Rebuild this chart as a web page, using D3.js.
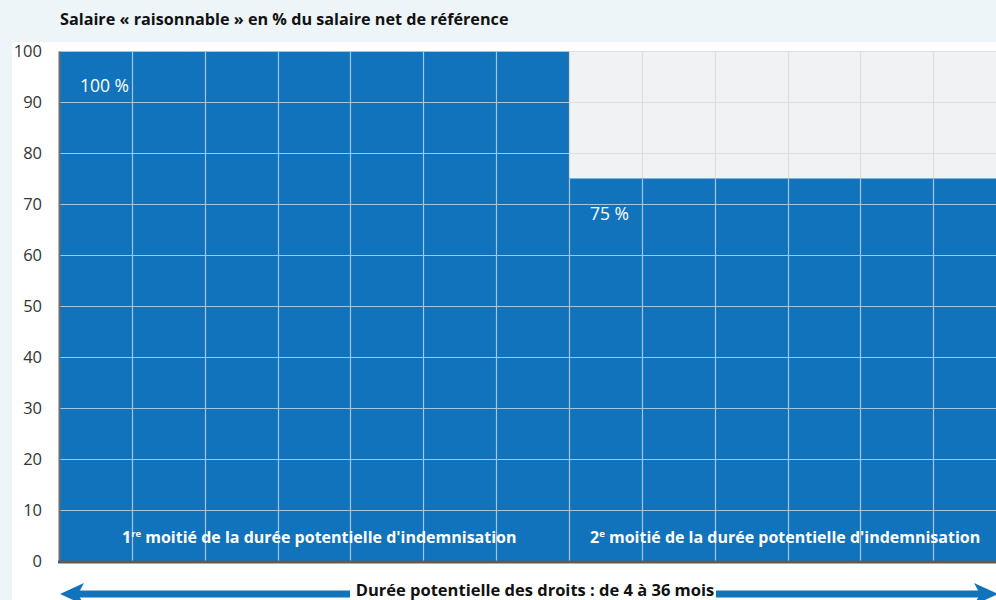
<!DOCTYPE html>
<html>
<head>
<meta charset="utf-8">
<script src="https://cdn.jsdelivr.net/npm/d3@7"></script>
<style>
  html, body { margin: 0; padding: 0; background: #edf5f9; }
  svg { display: block; font-family: "Open Sans", Lato, sans-serif; }
</style>
</head>
<body>
<div id="chart"></div>
<script>
// data
const periods = ['1re moitié', '2e moitié'];
const periodStart = [0, 7];
const periodEnd = [7, 14];
const rates = [100, 75];
const rateLabels = ['100 %', '75 %'];
const yTicks = [0, 10, 20, 30, 40, 50, 60, 70, 80, 90, 100];
const columns = d3.range(0, 15);

const width = 996;
const height = 600;
const BLUE = '#1173bc';
const GREY = '#f1f2f4';

const x = d3.scaleLinear().domain([0, 14]).range([59, 59 + 14 * 72.86]);
const y = d3.scaleLinear().domain([0, 100]).range([561, 51]);

const svg = d3.select('#chart')
  .append('svg')
  .attr('width', width)
  .attr('height', height);

// white panel
svg.append('rect')
  .attr('x', 12).attr('y', 42)
  .attr('width', width - 12).attr('height', height - 42)
  .attr('fill', '#fff');

svg.append('text')
  .attr('x', 60).attr('y', 25)
  .attr('font-size', 16.2)
  .attr('font-weight', 700)
  .attr('fill', '#111')
  .text('Salaire « raisonnable » en % du salaire net de référence');

// grey background for the plot area
svg.append('rect')
  .attr('x', x(0)).attr('y', y(100))
  .attr('width', x(14) - x(0)).attr('height', y(0) - y(100))
  .attr('fill', GREY);

const drawGrid = (g, color) => {
  g.selectAll('.h')
    .data(yTicks.filter(d => d > 0))
    .enter()
    .append('line')
    .attr('x1', x(0)).attr('x2', x(14))
    .attr('y1', d => y(d) + 0.5).attr('y2', d => y(d) + 0.5)
    .attr('stroke', color).attr('stroke-width', 1.2);
  g.selectAll('.v')
    .data(columns.filter(d => d > 0))
    .enter()
    .append('line')
    .attr('x1', d => Math.round(x(d)) + 0.5).attr('x2', d => Math.round(x(d)) + 0.5)
    .attr('y1', y(100)).attr('y2', y(0))
    .attr('stroke', color).attr('stroke-width', 1.2);
};

drawGrid(svg.append('g'), '#dddee2');

const bars = periods.map((p, i) => ({
  name: p, start: periodStart[i], end: periodEnd[i], value: rates[i], label: rateLabels[i]
}));

const clip = svg.append('defs').append('clipPath').attr('id', 'barclip');
clip.selectAll('rect')
  .data(bars)
  .enter()
  .append('rect')
  .attr('x', d => x(d.start)).attr('y', d => y(d.value))
  .attr('width', d => x(d.end) - x(d.start)).attr('height', d => y(0) - y(d.value));

svg.selectAll('.bar')
  .data(bars)
  .enter()
  .append('rect')
  .attr('class', 'bar')
  .attr('x', d => x(d.start)).attr('y', d => y(d.value))
  .attr('width', d => x(d.end) - x(d.start)).attr('height', d => y(0) - y(d.value))
  .attr('fill', BLUE);

drawGrid(svg.append('g').attr('clip-path', 'url(#barclip)'), '#a4c6e2');

// value labels
svg.selectAll('.val')
  .data(bars)
  .enter()
  .append('text')
  .attr('x', d => x(d.start) + 21)
  .attr('y', d => y(d.value) + 41)
  .attr('font-size', 17.5)
  .attr('fill', '#fff')
  .text(d => d.label);

// period labels
const periodLabelX = [122, 590];
const periodSup = ['re', 'e'];
const periodNum = ['1', '2'];
bars.forEach((d, i) => {
  const t = svg.append('text')
    .attr('x', periodLabelX[i]).attr('y', 543)
    .attr('font-size', 16)
    .attr('font-weight', 700)
    .attr('fill', '#fff');
  t.append('tspan').text(periodNum[i]);
  t.append('tspan').attr('font-size', 9.5).attr('dy', -6).text(periodSup[i]);
  t.append('tspan').attr('dy', 6).text(' moitié de la durée potentielle d\'indemnisation');
});

// axes
const yAxis = d3.axisLeft(y).tickValues(yTicks).tickSize(0).tickPadding(17);
const ga = svg.append('g').attr('transform', `translate(${x(0)},0)`).call(yAxis);
ga.select('.domain').attr('stroke', '#6b6b6b').attr('stroke-width', 2);
ga.selectAll('text')
  .attr('font-size', 16.5)
  .attr('font-family', '"Open Sans", Lato, sans-serif')
  .attr('fill', '#333');

svg.append('line')
  .attr('x1', x(0) - 1).attr('x2', width)
  .attr('y1', y(0) + 1).attr('y2', y(0) + 1)
  .attr('stroke', '#5c5c5c').attr('stroke-width', 3);

// duration arrow
const arrowY = 594;
const arrowText = 'Durée potentielle des droits : de 4 à 36 mois';
svg.append('line')
  .attr('x1', 75).attr('x2', 985)
  .attr('y1', arrowY).attr('y2', arrowY)
  .attr('stroke', BLUE).attr('stroke-width', 7);
svg.append('path')
  .attr('d', `M60,${arrowY} L84,${arrowY - 11} L78,${arrowY} L84,${arrowY + 11} Z`)
  .attr('fill', BLUE);
svg.append('path')
  .attr('d', `M998,${arrowY} L974,${arrowY - 11} L980,${arrowY} L974,${arrowY + 11} Z`)
  .attr('fill', BLUE);
svg.append('rect')
  .attr('x', 350).attr('y', arrowY - 12)
  .attr('width', 366).attr('height', 20)
  .attr('fill', '#fff');
svg.append('text')
  .attr('x', 535).attr('y', 596)
  .attr('text-anchor', 'middle')
  .attr('font-size', 16.5)
  .attr('font-weight', 700)
  .attr('fill', '#111')
  .text(arrowText);
</script>
</body>
</html>
